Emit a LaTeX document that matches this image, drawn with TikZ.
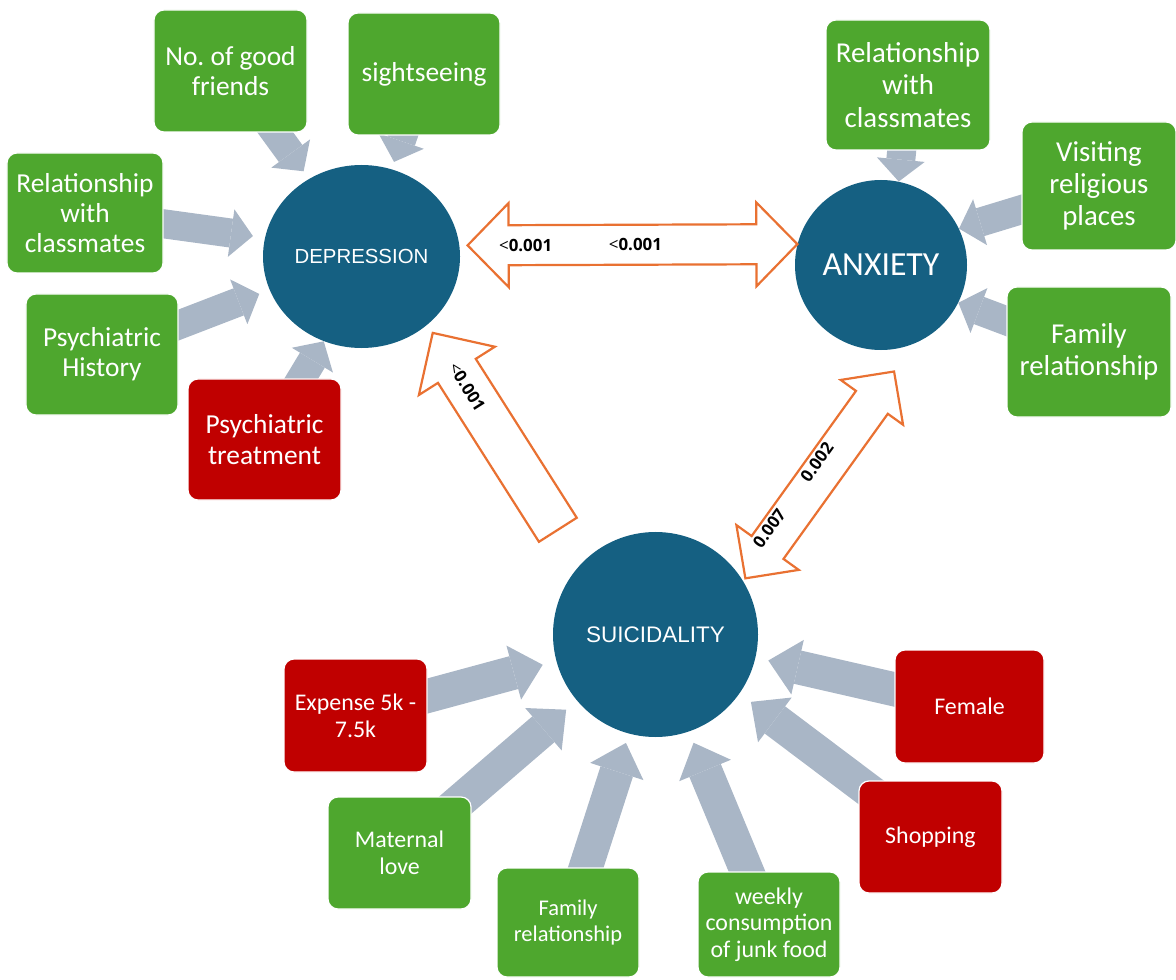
\documentclass[tikz,border=0pt]{standalone}
\usepackage{fontspec}
\setmainfont{Carlito}
\newfontfamily\numfont{Open Sans}
\newfontfamily\hubfont{Liberation Sans}
\usepackage{xcolor}
\usepackage{tikz}
\usetikzlibrary{arrows.meta, calc, backgrounds, shapes.geometric}
\definecolor{boxgreen}{HTML}{4EA72E}
\definecolor{boxred}{HTML}{C00000}
\definecolor{hubblue}{HTML}{156082}
\definecolor{linkorange}{HTML}{E97132}
\definecolor{feedgray}{HTML}{A9B6C6}
\newcommand{\pless}{{\mdseries<}}
% one-headed block arrow: tail, tip, half shaft, half head, head length
\newcommand{\linkone}[5]{%
  \coordinate (lk-c) at ($(#2)!#5!(#1)$);
  \draw[link] ($(#1)!#3!90:(#2)$) -- ($(lk-c)!#3!90:(#2)$) -- ($(lk-c)!#4!90:(#2)$) -- (#2)
    -- ($(lk-c)!#4!-90:(#2)$) -- ($(lk-c)!#3!-90:(#2)$) -- ($(#1)!#3!-90:(#2)$) -- cycle;}
% two-headed block arrow: tip, tip, half shaft, half head, head length
\newcommand{\linktwo}[5]{%
  \coordinate (lk-a) at ($(#1)!#5!(#2)$);
  \coordinate (lk-b) at ($(#2)!#5!(#1)$);
  \draw[link] (#1) -- ($(lk-a)!#4!90:(#2)$) -- ($(lk-a)!#3!90:(#2)$) -- ($(lk-b)!#3!90:(#2)$)
    -- ($(lk-b)!#4!90:(#2)$) -- (#2) -- ($(lk-b)!#4!-90:(#2)$) -- ($(lk-b)!#3!-90:(#2)$)
    -- ($(lk-a)!#3!-90:(#2)$) -- ($(lk-a)!#4!-90:(#2)$) -- cycle;}
\tikzset{
  factor/.style={rounded corners=2.5mm, draw=white, line width=0.3mm, text=white, align=center, inner sep=0pt, font=\fontsize{19.5}{21.5}\selectfont},
  good/.style={factor, fill=boxgreen},
  bad/.style={factor, fill=boxred},
  large/.style={font=\fontsize{20.5}{23}\selectfont},
  small/.style={font=\fontsize{17}{19}\selectfont},
  hub/.style={ellipse, fill=hubblue, text=white, inner sep=0pt},
  feed/.style={draw=feedgray, line width=7.25mm, -{Triangle[length=5.5mm, width=12mm, line width=0pt]}},
  bigfeed/.style={draw=feedgray, line width=8.5mm, -{Triangle[length=7.5mm, width=14mm, line width=0pt]}},
  link/.style={draw=linkorange, line width=0.55mm, fill=white, line join=miter},
  pval/.style={font=\numfont\fontsize{12}{12}\selectfont\bfseries, inner sep=0pt}
}
\begin{document}
\begin{tikzpicture}[x=0.25mm, y=-0.25mm]
    \useasboundingbox (0,0) rectangle (1176,980);

    \node[hub, minimum width=49.25mm, minimum height=45.75mm, font=\hubfont\fontsize{14.5}{16}\selectfont] (dep) at (361.5,256.5) {DEPRESSION};
    \node[hub, minimum width=43mm, minimum height=42.5mm, font=\fontsize{24}{26}\selectfont] (anx) at (881,265) {ANXIETY};
    \node[hub, minimum width=51.25mm, minimum height=51.25mm, font=\hubfont\fontsize{16}{18}\selectfont] (sui) at (655.5,634.5) {SUICIDALITY};

    \node[good, minimum width=38.25mm, minimum height=30.5mm] (friends) at (230.5,71) {No.\ of good\\friends};
    \node[good, minimum width=38mm, minimum height=30.5mm] (sight) at (424,74) {sightseeing};
    \node[good, minimum width=39mm, minimum height=30mm] (classL) at (85,213) {Relationship\\with\\classmates};
    \node[good, minimum width=38mm, minimum height=30.25mm] (history) at (102,354.5) {Psychiatric\\History};
    \node[bad, minimum width=38.25mm, minimum height=30.25mm] (treat) at (264.5,439.5) {Psychiatric\\treatment};

    \node[good, large, minimum width=41mm, minimum height=32.5mm] (classR) at (908,85) {Relationship\\with\\classmates};
    \node[good, large, minimum width=38.5mm, minimum height=32mm] (relig) at (1099,186) {Visiting\\religious\\places};
    \node[good, large, minimum width=41mm, minimum height=32.5mm] (familyR) at (1089,352) {Family\\relationship};

    \node[bad, small, minimum width=35.75mm, minimum height=28.25mm] (expense) at (355.5,715.5) {Expense 5k -\\7.5k};
    \node[good, small, minimum width=35.75mm, minimum height=28mm] (maternal) at (399.5,853) {Maternal\\love};
    \node[good, small, font=\fontsize{16}{18.5}\selectfont, minimum width=35.5mm, minimum height=27.25mm] (familyB) at (568,922.5) {Family\\relationship};
    \node[good, small, minimum width=35.5mm, minimum height=26.25mm] (junk) at (769,924.5) {weekly\\consumption\\of junk food};
    \node[bad, small, minimum width=37.25mm, minimum height=28.25mm] (female) at (969.5,706.5) {Female};
    \node[bad, small, minimum width=35.75mm, minimum height=28mm] (shopping) at (930.5,837) {Shopping};

    \begin{scope}[on background layer]
        \draw[feed, shorten >=2.3mm] (friends.center) -- (dep.124.7);
        \draw[feed, shorten >=1.9mm] (sight.center) -- (dep.71.6);
        \draw[feed, shorten >=3mm] (classL.center) -- (dep.169.8);
        \draw[feed, shorten >=2.75mm] (history.center) -- (dep.200.8);
        \draw[feed] (treat.center) -- (dep.246.4);
        \draw[feed] (classR.center) -- (anx.78.3);
        \draw[feed] (relig.center) -- (anx.25.7);
        \draw[feed] (familyR.center) -- (anx.334.4);
        \draw[bigfeed, shorten >=3.5mm] (expense.center) -- (sui.195.2);
        \draw[bigfeed, shorten >=3.5mm] (maternal.center) -- (sui.220.5);
        \draw[bigfeed, shorten >=2.4mm] (familyB.center) -- (sui.255.8);
        \draw[bigfeed, shorten >=3mm] (junk.center) -- (sui.289.1);
        \draw[bigfeed, shorten >=3.5mm] (shopping.center) -- (sui.325.8);
        \draw[bigfeed, shorten >=3.25mm] (female.center) -- (sui.347.2);
    \end{scope}

    \coordinate (da) at ($(dep.6.2)!-2mm!(dep.center)$);
    \coordinate (ad) at (anx.166.6);
    \coordinate (sd) at ($(sui.133.6)!-10.1mm!(sui.center)$);
    \coordinate (ds) at ($(dep.-47.3)!-2.4mm!(dep.center)$);
    \coordinate (sa) at ($(sui.32.3)!-0.8mm!(sui.center)$);
    \coordinate (as) at ($(anx.-83.6)!-5.5mm!(anx.center)$);

    \linktwo{da}{ad}{5mm}{10.5mm}{10.25mm}
    \linkone{sd}{ds}{5.6mm}{11.25mm}{11.25mm}
    \linktwo{sa}{as}{4.9mm}{9.6mm}{9.5mm}

    \node[pval] (pda) at ($(da)!0.176!(ad)$) {\pless0.001};
    \node[pval] (pad) at ($(da)!0.509!(ad)$) {\pless0.001};
    \node[pval, rotate=-57.7] (psd) at ($(sd)!0.726!(ds)$) {\pless0.001};
    \node[pval, rotate=54.3, anchor=south, inner ysep=0.8mm] (pas) at ($(sa)!0.534!(as)$) {0.002};
    \node[pval, rotate=54.3, anchor=south, inner ysep=0.8mm] (psa) at ($(sa)!0.214!(as)$) {0.007};
\end{tikzpicture}
\end{document}
